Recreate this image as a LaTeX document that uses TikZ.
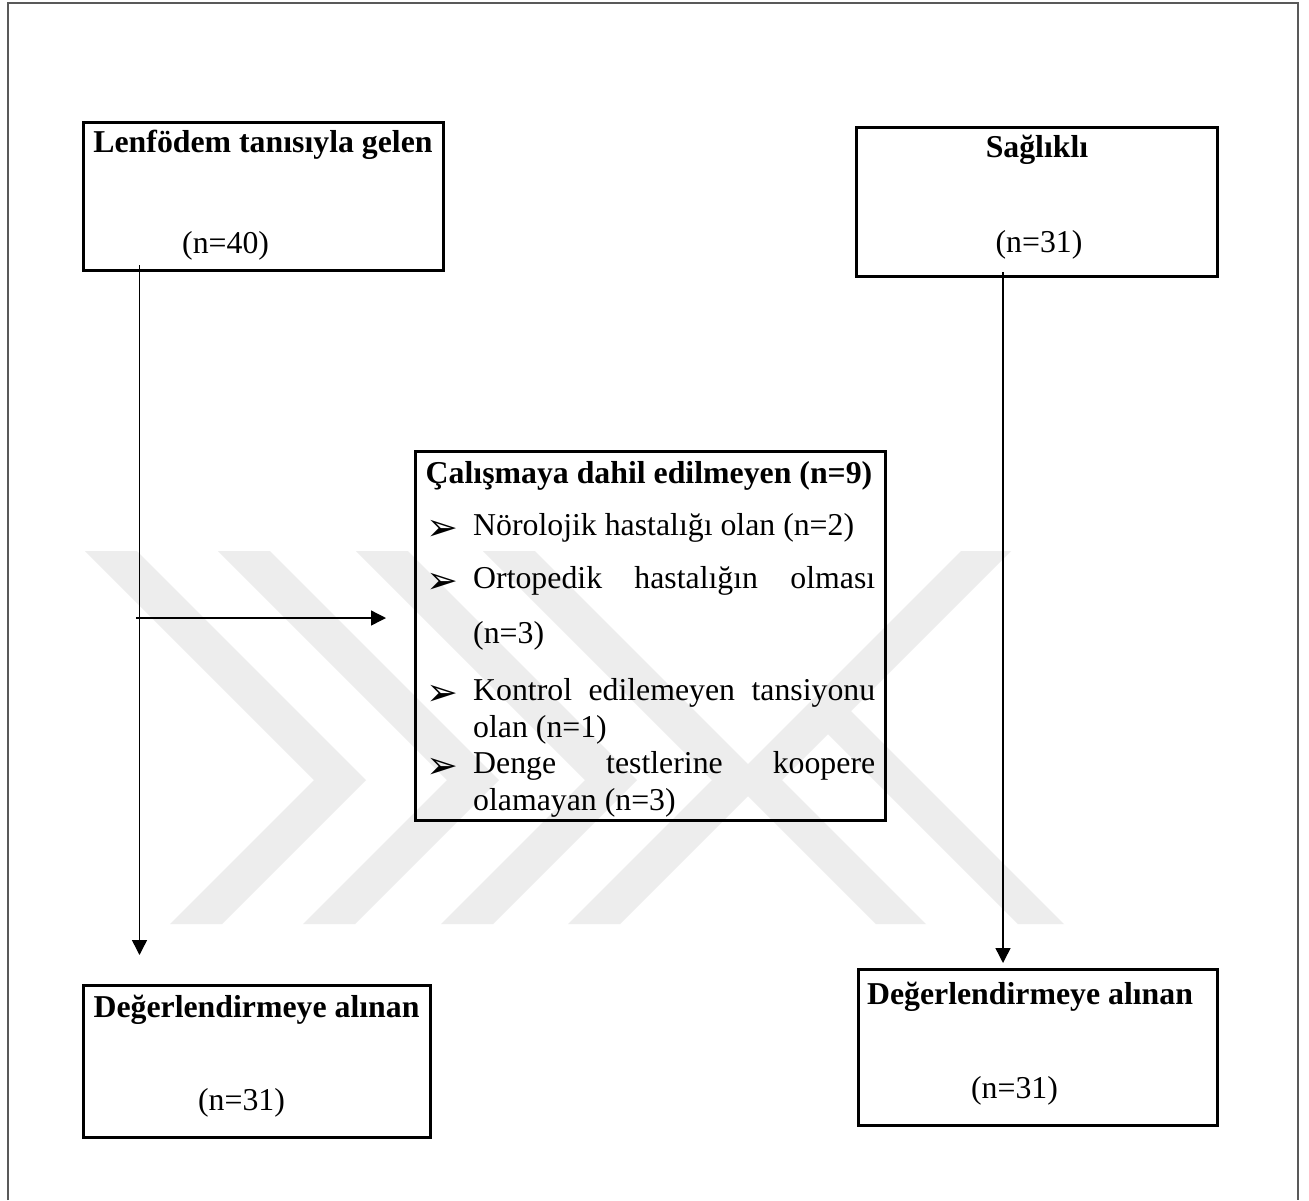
\documentclass[tikz,border=0pt]{standalone}
\usepackage{fontspec}
\setmainfont{Liberation Serif}
\newfontfamily\symfont{DejaVu Sans}
\usetikzlibrary{arrows.meta}
\begin{document}
\begin{tikzpicture}[x=1pt,y=-1pt,
  box/.style={draw, line width=3pt, inner sep=0pt},
  txt/.style={inner sep=0pt, font=\fontsize{31.8}{36.6}\selectfont},
  btxt/.style={inner sep=0pt, font=\fontsize{31.8}{36.6}\selectfont\bfseries},
  bul/.style={inner sep=0pt, font=\symfont\fontsize{38}{42}\selectfont},
  conn/.style={line width=1.4pt, -{Triangle[length=15pt,width=15pt]}},
  frame/.style={line width=2pt, draw=black!65},
  wm/.style={fill=black!7, draw=none}
]
\useasboundingbox (0,0) rectangle (1309,1200);
\fill[white] (0,0) rectangle (1309,1200);

% watermark (light grey chevrons)
\foreach \xa/\xb in {85/137, 218/270, 356/408, 483/535}{
  \fill[wm] (\xa,551) -- (\xb,551) -- (\xb+229,780) -- (\xb+85,924) -- (\xa+85,924) -- (\xa+229,780) -- cycle;
}
\fill[wm] (961,551) -- (1011,551) -- (782,780) -- (926,924) -- (876,924) -- (732,780) -- cycle;
\fill[wm] (815.5,721.5) -- (838.5,698.5) -- (1064,924) -- (1018,924) -- cycle;

% outer frame
\draw[frame] (8,1200) -- (8,2.7) -- (1298,2.7) -- (1298,1200);

% boxes
\node[box, minimum width=360pt, minimum height=148pt] (lenf) at (263,196) {};
\node[box, minimum width=361pt, minimum height=149pt] (sag) at (1036.5,201.5) {};
\node[box, minimum width=470pt, minimum height=369pt] (excl) at (650,635.5) {};
\node[box, minimum width=347pt, minimum height=152pt] (degL) at (256.5,1061) {};
\node[box, minimum width=359pt, minimum height=156pt] (degR) at (1037.5,1047) {};

% texts
\node[btxt, anchor=base] (lenfT) at (263,152) {Lenfödem tanısıyla gelen};
\node[txt, anchor=base west] (lenfN) at (182,253) {(n=40)};
\node[btxt, anchor=base] (sagT) at (1037,157) {Sağlıklı};
\node[txt, anchor=base] (sagN) at (1039,252) {(n=31)};
\node[btxt, anchor=base] (exclT) at (649,483) {Çalışmaya dahil edilmeyen (n=9)};
\node[bul, anchor=base west] (b1) at (426,540) {➢};
\node[txt, anchor=base west] (i1) at (473,535) {Nörolojik hastalığı olan (n=2)};
\node[bul, anchor=base west] (b2) at (426,593) {➢};
\node[txt, anchor=base west] (i2a) at (473,588) {\makebox[402pt][s]{Ortopedik hastalığın olması}};
\node[txt, anchor=base west] (i2b) at (473,643) {(n=3)};
\node[bul, anchor=base west] (b3) at (426,705) {➢};
\node[txt, anchor=base west] (i3a) at (473,700) {\makebox[402pt][s]{Kontrol edilemeyen tansiyonu}};
\node[txt, anchor=base west] (i3b) at (473,737) {olan (n=1)};
\node[bul, anchor=base west] (b4) at (426,778) {➢};
\node[txt, anchor=base west] (i4a) at (473,773) {\makebox[402pt][s]{Denge testlerine koopere}};
\node[txt, anchor=base west] (i4b) at (473,810) {olamayan (n=3)};
\node[btxt, anchor=base] (degLT) at (256.5,1017) {Değerlendirmeye alınan};
\node[txt, anchor=base] (degLN) at (241.5,1110) {(n=31)};
\node[btxt, anchor=base] (degRT) at (1030,1004) {Değerlendirmeye alınan};
\node[txt, anchor=base] (degRN) at (1014.5,1098) {(n=31)};

% connectors
\coordinate (ls) at (139.5,265);
\coordinate (le) at (139.5,955);
\coordinate (hs) at (136,618);
\coordinate (he) at (386,618);
\coordinate (rs) at (1003,272);
\coordinate (re) at (1003,963);
\draw[conn] (ls) -- (le);
\draw[conn] (hs) -- (he);
\draw[conn] (rs) -- (re);
\end{tikzpicture}
\end{document}
